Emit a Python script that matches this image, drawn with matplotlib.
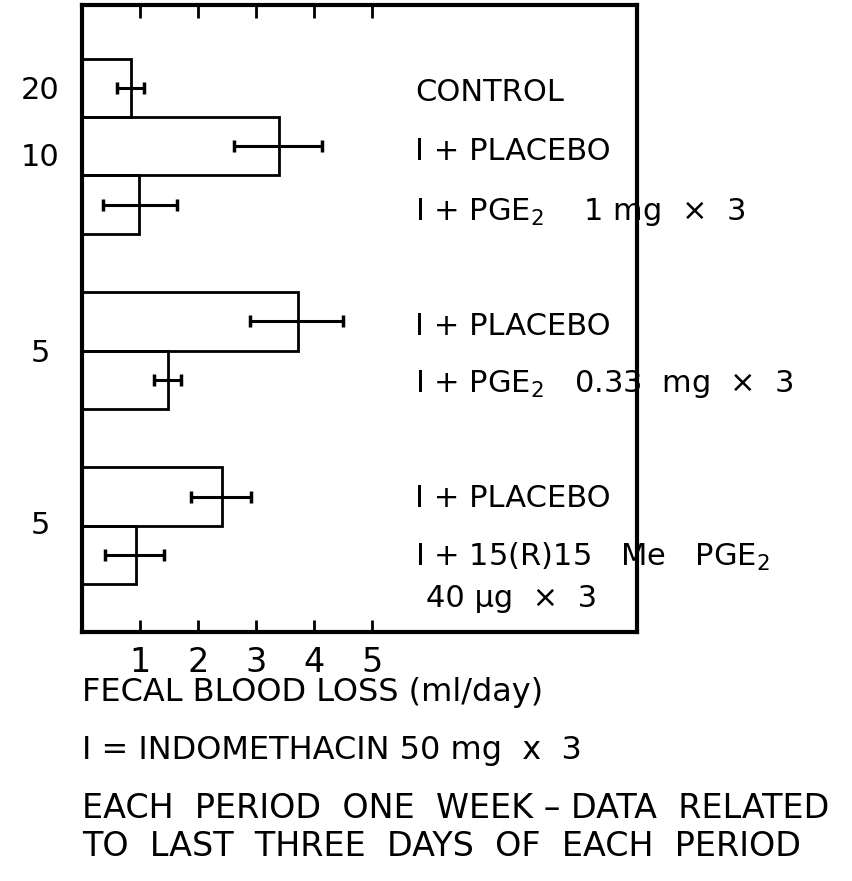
import numpy as np
import matplotlib.pyplot as plt

plt.rcParams['font.family'] = ['DejaVu Sans']

# bar order top to bottom
labels = ['CONTROL', '\u2160 + PLACEBO', '\u2160 + PGE$_2$    1 mg  \u00d7  3',
          '\u2160 + PLACEBO', '\u2160 + PGE$_2$   0.33  mg  \u00d7  3',
          '\u2160 + PLACEBO', '\u2160 + 15(R)15   Me   PGE$_2$']
pos = [0, 1, 2, 4, 5, 7, 8]
means = [0.84, 3.40, 0.98, 3.73, 1.48, 2.41, 0.93]
err_lo = [0.60, 2.62, 0.37, 2.90, 1.24, 1.88, 0.40]
err_hi = [1.07, 4.14, 1.63, 4.50, 1.71, 2.91, 1.41]
n_labels = ['20', '10', '5', '5']
n_pos = [0.05, 1.2, 4.55, 7.5]

means = np.array(means)
xerr = [means - np.array(err_lo), np.array(err_hi) - means]

fig = plt.figure(figsize=(8.53, 8.81), dpi=100)
ax = fig.add_axes([82/853, 1 - 632/881, (637 - 82)/853, (632 - 5)/881])

ax.barh(pos, means, height=1.0, fill=False, edgecolor='black', linewidth=2,
        xerr=xerr, error_kw=dict(ecolor='black', elinewidth=2.2, capsize=4.5, capthick=2.5))

ax.set_xlim(0, 9.57)
ax.set_ylim(9.32, -1.42)
ax.set_xticks([1, 2, 3, 4, 5])
ax.set_yticks([])
ax.tick_params(axis='x', direction='in', length=9, width=2, top=True,
               labelsize=24, pad=10)
for s in ax.spines.values():
    s.set_linewidth(3)

fs = 22
label_y = [0.08, 1.09, 2.12, 4.08, 5.07, 7.04, 8.03]
for t, y in zip(labels, label_y):
    ax.text(5.74, y, t, fontsize=fs, va='center', ha='left')
ax.text(8.88, 8.75, '40 \u00b5g  \u00d7  3', fontsize=fs, va='center', ha='right')

for t, y in zip(n_labels, n_pos):
    ax.text(-0.72, y, t, fontsize=fs, va='center', ha='center', clip_on=False)

x0 = 82/853
fig.text(x0, 1 - 693/881, 'FECAL BLOOD LOSS (ml/day)', fontsize=23, va='center')
fig.text(x0, 1 - 750/881, '\u2160 = INDOMETHACIN 50 mg  x  3', fontsize=23, va='center')
fig.text(x0, 1 - 808/881, 'EACH  PERIOD  ONE  WEEK \u2013 DATA  RELATED', fontsize=24, va='center')
fig.text(x0, 1 - 847/881, 'TO  LAST  THREE  DAYS  OF  EACH  PERIOD', fontsize=24, va='center')

fig.savefig('out.png', dpi=100)
